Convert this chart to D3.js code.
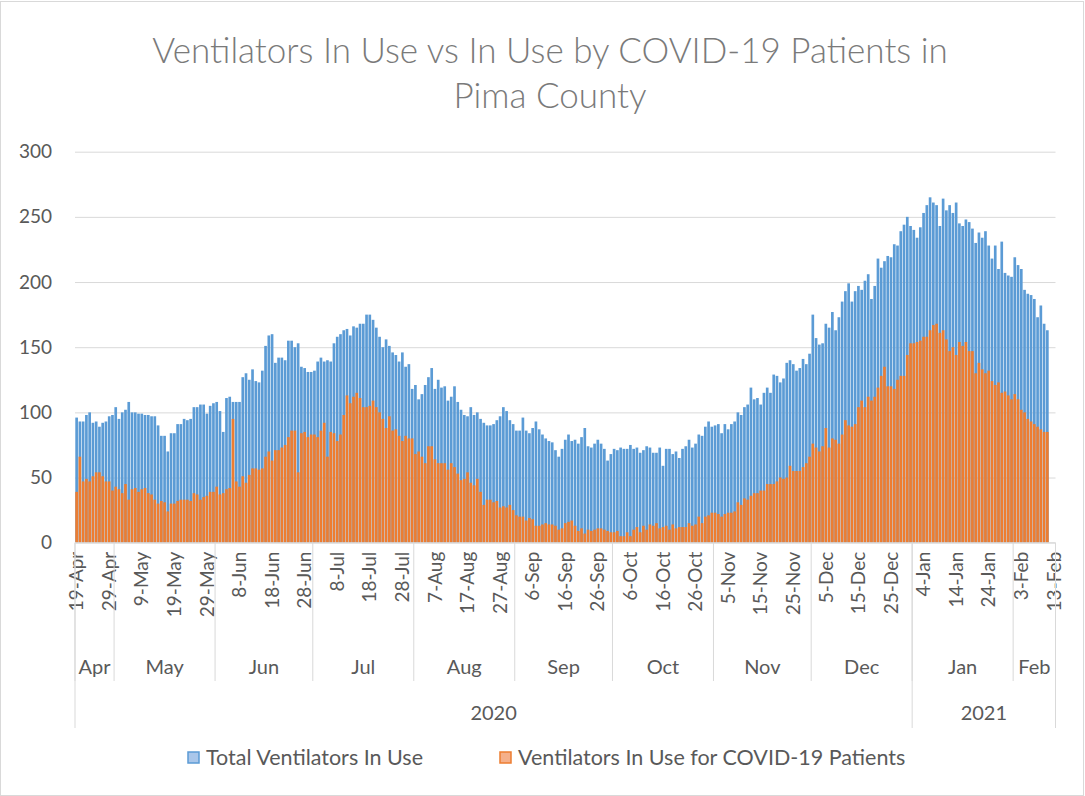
<!DOCTYPE html>
<html>
<head>
<meta charset="utf-8">
<script src="https://cdn.jsdelivr.net/npm/d3@7"></script>
<style>
  body { margin: 0; background: #fff; }
  text { font-family: Lato, "Open Sans", sans-serif; }
</style>
</head>
<body>
<div id="chart"></div>
<script>
// categories: one bar slot per day
const firstDay = "2020-04-19"
const lastDay = "2021-02-13"
const tickLabels = ["19-Apr","29-Apr","9-May","19-May","29-May","8-Jun","18-Jun","28-Jun","8-Jul","18-Jul","28-Jul",
  "7-Aug","17-Aug","27-Aug","6-Sep","16-Sep","26-Sep","6-Oct","16-Oct","26-Oct","5-Nov","15-Nov","25-Nov",
  "5-Dec","15-Dec","25-Dec","4-Jan","14-Jan","24-Jan","3-Feb","13-Feb"]
const monthLabels = ["Apr","May","Jun","Jul","Aug","Sep","Oct","Nov","Dec","Jan","Feb"]
const yearLabels = ["2020","2021"]
const yTicks = [0, 50, 100, 150, 200, 250, 300]

// Total Ventilators In Use (19-Apr .. 11-Feb)
const totalInUse = [
  96,93,93,98,100,92,93,89,92,93, 97,98,104,95,100,102,108,100,100,99,
  99,98,98,97,97,90,82,82,70,84, 84,91,91,95,94,95,104,104,106,106,
  99,105,107,108,101,85,111,112,108,108, 108,127,130,125,133,124,123,132,151,159,
  160,138,142,142,140,155,155,150,153,135, 134,131,131,132,139,142,139,140,139,153,
  158,160,163,164,159,166,165,168,168,175, 175,171,165,158,150,156,151,146,144,139,
  146,135,137,118,121,110,114,121,127,134, 118,125,119,120,109,112,120,108,102,98,
  97,104,98,100,95,92,90,90,91,94, 97,104,101,94,91,86,86,96,86,84,
  88,93,87,83,80,78,77,71,66,72, 79,83,78,79,76,81,88,74,73,76,
  79,76,72,63,68,72,71,73,72,72, 75,72,73,69,71,74,73,69,69,73,
  59,72,72,68,70,65,72,74,79,73, 76,83,82,89,93,89,90,91,84,91,
  87,91,93,100,98,104,106,119,110,111, 106,115,119,115,129,128,123,126,138,140,
  137,132,134,141,137,145,175,157,152,153, 168,165,177,163,173,185,193,199,185,193,
  197,194,201,206,187,197,218,211,216,220, 219,229,228,239,244,250,243,240,234,242,
  253,259,265,261,259,243,264,255,259,253, 261,245,243,248,246,241,230,238,234,239,
  228,218,228,210,231,207,205,204,219,213, 210,194,191,190,187,173,182,168,163
]

// Ventilators In Use for COVID-19 Patients (19-Apr .. 11-Feb)
const covidInUse = [
  39,66,47,49,47,51,54,54,51,47, 47,40,43,41,38,45,33,41,42,39,
  41,42,38,37,33,30,32,31,24,30, 30,32,33,33,33,32,38,37,33,35,
  36,39,39,43,37,38,41,42,95,47, 43,51,46,52,57,57,56,57,66,70,
  63,71,71,73,75,81,86,86,54,84, 85,81,83,83,81,86,92,66,85,84,
  78,83,98,113,107,112,115,111,104,104, 105,109,104,100,95,88,97,86,87,82,
  78,82,80,80,68,70,66,61,74,74, 64,61,61,61,56,61,58,53,48,49,
  54,46,44,49,39,29,33,33,31,32, 27,28,27,29,25,21,20,20,17,19,
  18,13,13,14,15,14,14,13,10,11, 15,16,17,13,9,11,7,10,9,10,
  11,11,10,9,8,8,9,5,5,8, 5,10,12,8,13,10,14,13,15,11,
  12,13,10,14,11,12,12,12,15,13, 14,20,15,20,21,23,23,22,20,22,
  23,23,24,31,29,34,33,36,38,38, 40,40,45,45,45,47,50,49,50,59,
  55,55,55,58,61,66,76,73,70,74, 88,73,80,79,76,83,94,90,89,91,
  104,109,104,112,109,112,119,128,135,120, 120,118,125,128,128,144,153,153,154,155,
  158,158,163,167,168,161,163,156,147,150, 144,154,151,154,147,147,130,138,133,130,
  132,124,121,123,115,116,113,110,114,110, 102,100,95,93,91,89,87,85,85
]

const W = 1085, H = 796
const plotLeft = 75, plotRight = 1055.5, plotTop = 151.7, plotBottom = 542.7
const grid = "#d9d9d9", labelColor = "#595959"

const parse = d3.timeParse("%Y-%m-%d")
const days = d3.timeDay.range(parse(firstDay), d3.timeDay.offset(parse(lastDay), 1))

const svg = d3.select("#chart").append("svg")
    .attr("width", W).attr("height", H)

// outer chart border
svg.append("rect")
    .attr("x", 0.5).attr("y", 1.5).attr("width", W - 2).attr("height", H - 2)
    .attr("fill", "none").attr("stroke", grid)

// title
const title = svg.append("text")
    .attr("text-anchor", "middle")
    .attr("fill", "#7a7a7a")
    .style("font-size", "35px")
    .style("font-weight", 300)
title.append("tspan").attr("x", 550).attr("y", 63)
    .text("Ventilators In Use vs In Use by COVID-19 Patients in")
title.append("tspan").attr("x", 550).attr("y", 108)
    .text("Pima County")

const x = d3.scaleBand()
    .domain(d3.range(days.length))
    .range([plotLeft, plotRight])
    .paddingInner(0.18)
    .paddingOuter(0.09)

const y = d3.scaleLinear().domain([0, 300]).range([plotBottom, plotTop])

// gridlines + y labels
const yAxis = svg.append("g")
    .attr("transform", `translate(${plotLeft},0)`)
    .call(d3.axisLeft(y).tickValues(yTicks).tickSize(-(plotRight - plotLeft)).tickPadding(23))
yAxis.select(".domain").remove()
yAxis.selectAll("line").attr("stroke", grid)
yAxis.selectAll("text")
    .attr("fill", labelColor)
    .style("font-size", "19px")

// bars
svg.append("g").selectAll("rect")
    .data(totalInUse)
    .join("rect")
    .attr("x", (v, i) => x(i))
    .attr("y", v => y(v))
    .attr("width", x.bandwidth())
    .attr("height", v => y(0) - y(v))
    .attr("fill", "#5b9bd5")

svg.append("g").selectAll("rect")
    .data(covidInUse)
    .join("rect")
    .attr("x", (v, i) => x(i))
    .attr("y", v => y(v))
    .attr("width", x.bandwidth())
    .attr("height", v => y(0) - y(v))
    .attr("fill", "#ed7d31")

// x axis base line
svg.append("line")
    .attr("x1", plotLeft).attr("x2", plotRight)
    .attr("y1", plotBottom).attr("y2", plotBottom)
    .attr("stroke", grid)

// day tick labels, every 10 days
const tickIdx = tickLabels.map((t, k) => k * 10)
const xAxis = svg.append("g")
    .attr("transform", `translate(0,${plotBottom})`)
    .call(d3.axisBottom(x).tickValues(tickIdx).tickSize(0)
        .tickFormat((d, k) => tickLabels[k]))
xAxis.select(".domain").remove()
xAxis.selectAll("text")
    .attr("fill", labelColor)
    .style("font-size", "19px")
    .attr("text-anchor", "end")
    .attr("transform", "rotate(-90)")
    .attr("x", -9)
    .attr("y", 0)
    .attr("dy", "0.35em")

// month groups
const fmtMonth = d3.timeFormat("%Y-%m")
const months = d3.groups(days.map((d, i) => ({d, i})), o => fmtMonth(o.d))
    .map(([key, arr], k) => ({label: monthLabels[k], first: arr[0].i, last: arr[arr.length - 1].i}))
const spanX0 = s => x(s.first) - x.step() * x.paddingInner() / 2
const spanX1 = s => x(s.last) + x.bandwidth() + x.step() * x.paddingInner() / 2

svg.append("g").selectAll("line")
    .data(months)
    .join("line")
    .attr("x1", spanX0).attr("x2", spanX0)
    .attr("y1", plotBottom).attr("y2", 681)
    .attr("stroke", grid)

svg.append("g").selectAll("text")
    .data(months)
    .join("text")
    .attr("x", s => (spanX0(s) + spanX1(s)) / 2)
    .attr("y", 674)
    .attr("text-anchor", "middle")
    .attr("fill", labelColor)
    .style("font-size", "20px")
    .text(s => s.label)

// year groups
const years = d3.groups(days.map((d, i) => ({d, i})), o => o.d.getFullYear())
    .map(([key, arr], k) => ({label: yearLabels[k], first: arr[0].i, last: arr[arr.length - 1].i}))

const yearEdges = years.map(spanX0).concat([plotRight])
svg.append("g").selectAll("line")
    .data(yearEdges)
    .join("line")
    .attr("x1", d => d).attr("x2", d => d)
    .attr("y1", plotBottom).attr("y2", 728)
    .attr("stroke", grid)

svg.append("g").selectAll("text")
    .data(years)
    .join("text")
    .attr("x", s => (spanX0(s) + spanX1(s)) / 2)
    .attr("y", 720)
    .attr("text-anchor", "middle")
    .attr("fill", labelColor)
    .style("font-size", "20px")
    .text(s => s.label)

// legend
const legendItems = [
  {name: "Total Ventilators In Use", fill: "#a9c6ea", stroke: "#5b9bd5", x: 188},
  {name: "Ventilators In Use for COVID-19 Patients", fill: "#f5b08a", stroke: "#ed7d31", x: 500}
]
const legend = svg.append("g").selectAll("g")
    .data(legendItems)
    .join("g")
    .attr("transform", d => `translate(${d.x},752)`)
legend.append("rect")
    .attr("width", 11).attr("height", 11)
    .attr("fill", d => d.fill).attr("stroke", d => d.stroke).attr("stroke-width", 1.5)
legend.append("text")
    .attr("x", 18).attr("y", 13)
    .attr("fill", labelColor)
    .style("font-size", "21.5px")
    .text(d => d.name)
</script>
</body>
</html>
